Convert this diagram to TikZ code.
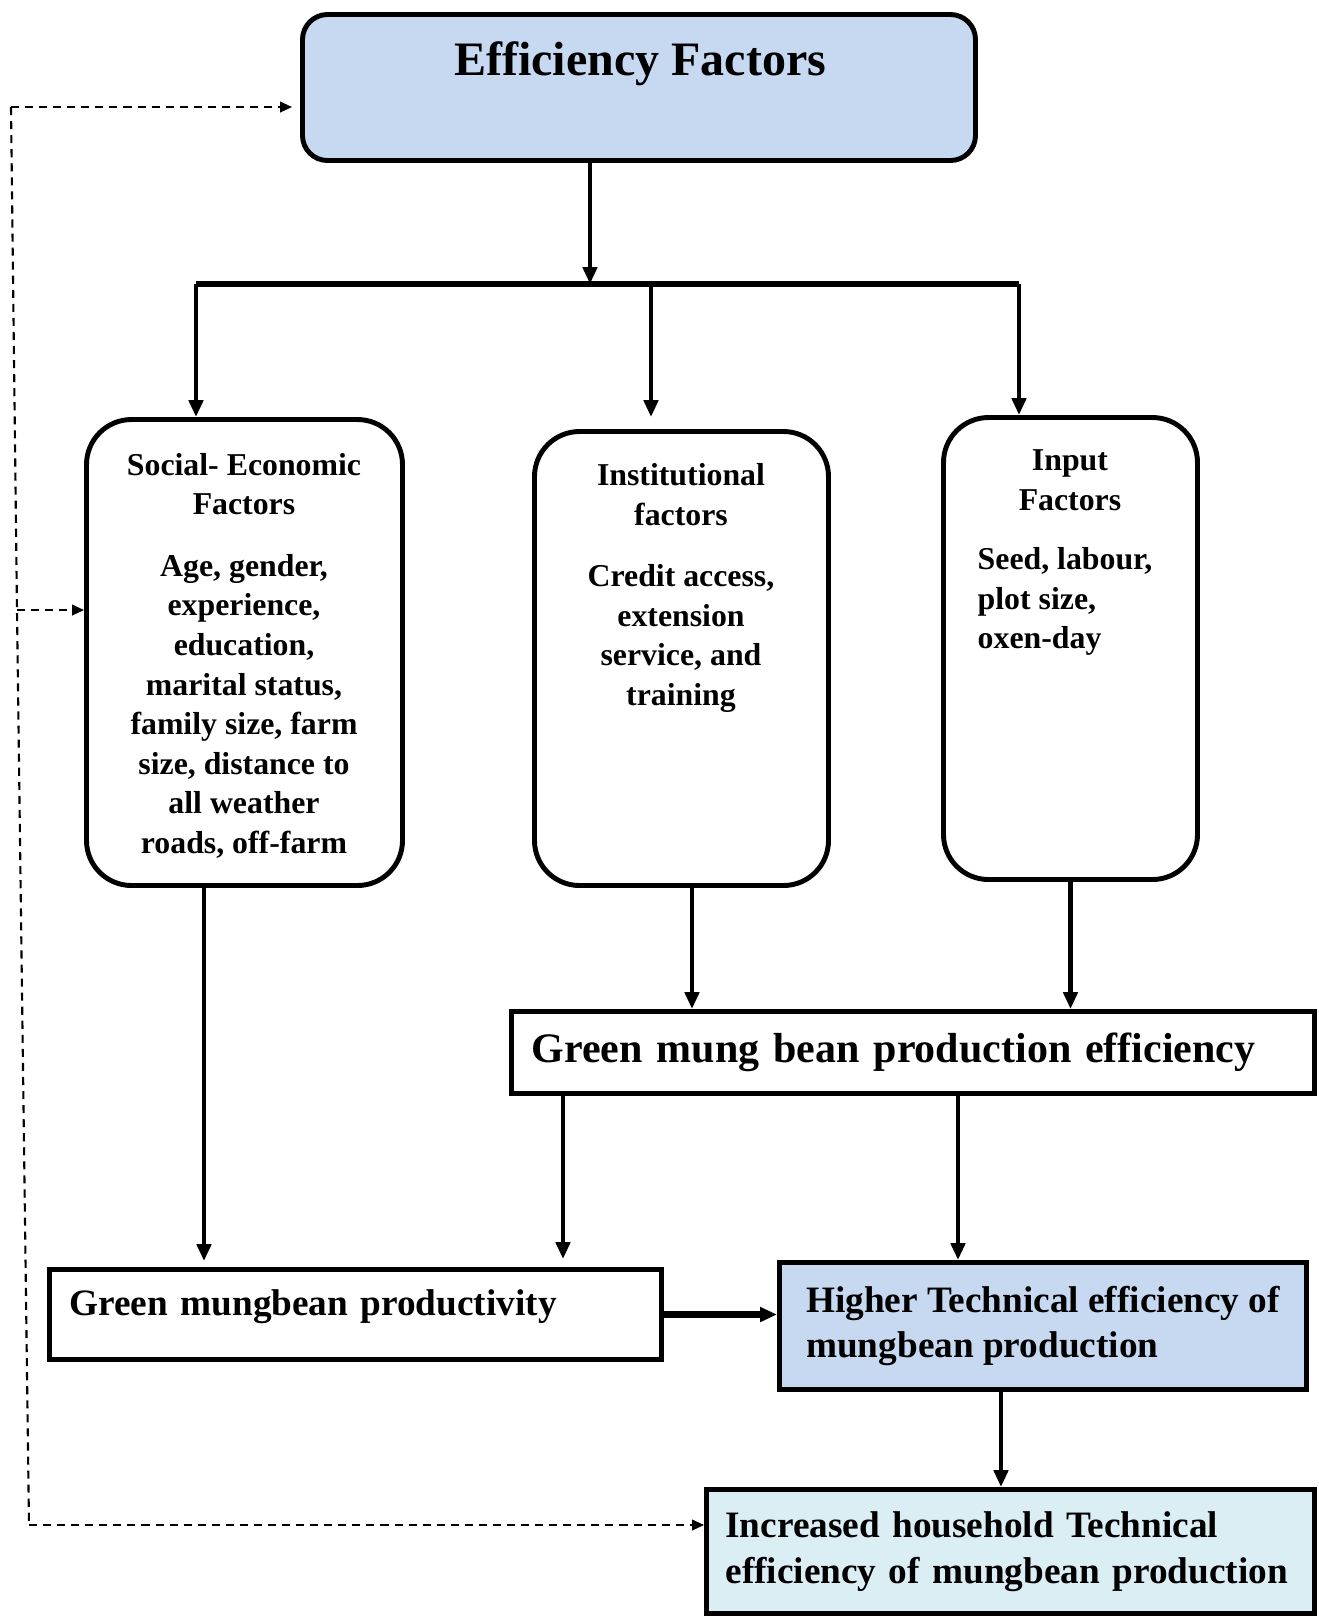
\documentclass[tikz,border=0pt]{standalone}
\usepackage{fontspec}
\setmainfont{Liberation Serif}
\usetikzlibrary{arrows.meta,positioning,calc}

\definecolor{topblue}{HTML}{C6D9F1}
\definecolor{paleblue}{HTML}{DBEEF4}

\newcommand{\sizeTitle}{\fontsize{13.66}{16}\selectfont\bfseries}
\newcommand{\sizeBig}{\fontsize{11.95}{14.5}\selectfont\bfseries}
\newcommand{\sizeMid}{\fontsize{10.6}{12.9}\selectfont\bfseries}
\newcommand{\sizeSmall}{\fontsize{9.05}{11.25}\selectfont\bfseries}

\tikzset{
  arr/.style={line width=1.35pt,-{Triangle[length=4.8pt,width=4pt]}},
  darr/.style={line width=0.6pt,dash pattern=on 2.3pt off 1.7pt,-{Triangle[length=3.4pt,width=3pt]}},
  dpath/.style={line width=0.6pt,dash pattern=on 2.3pt off 1.7pt},
  rbox/.style={draw,line width=1.4pt,rounded corners=0.45cm},
  sbox/.style={draw,line width=1.4pt,inner xsep=0.2cm,align=left},
  txt/.style={inner sep=0pt,align=center,font=\sizeSmall},
}

\begin{document}
\begin{tikzpicture}
\useasboundingbox (0,0) rectangle (13.19,-16.18);

% top box
\node[rbox,fill=topblue,rounded corners=0.25cm,minimum width=6.73cm,minimum height=1.46cm] (ef) at (6.39,-0.875) {};
\node[txt,font=\sizeTitle] (eft) at (6.40,-0.64) {Efficiency Factors};

% factor boxes
\node[rbox,minimum width=3.16cm,minimum height=4.66cm] (soc) at (2.445,-6.525) {};
\node[rbox,minimum width=2.94cm,minimum height=4.54cm] (inst) at (6.815,-6.585) {};
\node[rbox,minimum width=2.54cm,minimum height=4.62cm] (inp) at (10.705,-6.485) {};

\node[txt] (soct) at (2.44,-6.557) {Social- Economic\\Factors\\[0.22cm]Age, gender,\\experience,\\education,\\marital status,\\family size, farm\\size, distance to\\all weather\\roads, off-farm};
\node[txt] (instt) at (6.81,-5.88) {Institutional\\factors\\[0.22cm]Credit access,\\extension\\service, and\\training};
\node[txt] (inph) at (10.70,-4.80) {Input\\Factors};
\node[txt,anchor=west,align=left] (inpt) at (9.77,-6.015) {Seed, labour,\\plot size,\\oxen-day};

% result boxes
\node[sbox,font=\sizeBig,text width=7.63cm,minimum height=0.82cm] (gpe) at (9.13,-10.525) {Green mung bean production efficiency};
\node[sbox,font=\sizeMid,text width=5.72cm,minimum height=0.9cm,text depth=7pt] (gmp) at (3.555,-13.145) {Green mungbean productivity};
\node[sbox,font=\sizeMid,fill=topblue,minimum width=5.27cm,minimum height=1.27cm] (hte) at (10.43,-13.26) {Higher Technical efficiency of\\mungbean production};
\node[sbox,font=\sizeMid,fill=paleblue,inner xsep=0.19cm,text width=5.7cm,minimum height=1.24cm] (ihte) at (10.105,-15.515) {Increased household Technical\\efficiency of mungbean production};

% bus
\coordinate (bus) at (5.90,-2.84);
\coordinate (bl) at (1.96,-2.84);
\coordinate (bm) at (6.51,-2.84);
\coordinate (br) at (10.19,-2.84);
\draw[line width=1.5pt] (bl) -- (br);
\draw[arr] (ef.south -| bus) -- (bus);
\draw[arr] (bl) -- (bl |- soc.north);
\draw[arr,shorten >=0.12cm] (bm) -- (bm |- inst.north);
\draw[arr] (br) -- (br |- inp.north);

% downwards
\draw[arr,shorten >=0.06cm] ([xshift=-4.05mm]soc.south) -- ([xshift=-4.05mm]soc.south |- gmp.north);
\draw[arr] ([xshift=1.05mm]inst.south) -- ([xshift=1.05mm]inst.south |- gpe.north);
\draw[arr] (inp.south) -- (inp.south |- gpe.north);
\draw[arr,shorten >=0.08cm] ([xshift=-35mm]gpe.south) -- ([xshift=-35mm]gpe.south |- gmp.north);
\draw[arr] ([xshift=4.5mm]gpe.south) -- ([xshift=4.5mm]gpe.south |- hte.north);
\draw[arr,line width=1.8pt] (gmp.east) -- (gmp.east -| hte.west);
\draw[arr] ([xshift=-4.2mm]hte.south) -- ([xshift=-4.2mm]hte.south |- ihte.north);

% feedback
\coordinate (dt) at (0.11,-1.07);
\coordinate (dm) at (0.17,-6.10);
\coordinate (db) at (0.29,-15.25);
\draw[dpath] (dt) -- (dm) -- (db);
\draw[darr,shorten >=0.08cm] (dt) -- (dt -| ef.west);
\draw[darr] (dm) -- (dm -| soc.west);
\draw[darr] (db) -- (db -| ihte.west);
\end{tikzpicture}
\end{document}
